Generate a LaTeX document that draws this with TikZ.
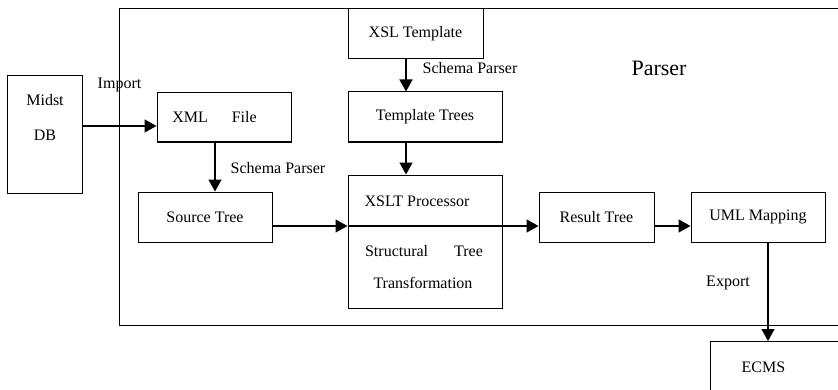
\documentclass[tikz,border=0pt]{standalone}
\usepackage{fontspec}
\setmainfont{Liberation Serif}
\usetikzlibrary{arrows.meta}
\begin{document}
\begin{tikzpicture}[x=1pt,y=1pt,
  box/.style={draw, line width=1pt, inner sep=0pt, font=\fontsize{16}{19}\selectfont},
  txt/.style={inner sep=0pt, font=\fontsize{16}{19}\selectfont},
  arr/.style={line width=1.5pt, -{Triangle[length=12pt,width=13pt]}},
  lin/.style={line width=1.5pt}]
\useasboundingbox (0,0) rectangle (838,389);
\clip (0,0) rectangle (838,389);
\fill[white] (0,0) rectangle (838,389);
% outer parser frame
\draw[line width=1pt] (850,380) -- (119,380) -- (119,64) -- (850,64);
\node[txt, font=\fontsize{22}{26}\selectfont] (parser) at (659,321) {Parser};
% boxes
\node[box, minimum width=75pt, minimum height=117pt] (mid) at (44.5,254.5) {};
\node[txt] (midt1) at (45,289) {Midst};
\node[txt] (midt2) at (45,254) {DB};
\node[box, minimum width=134pt, minimum height=49pt] (xml) at (224,271.5) {};
\node[txt] (xmlt) at (214.5,272) {XML\hspace{24pt}File};
\node[box, minimum width=134pt, minimum height=50pt] (src) at (205,172) {Source Tree};
\node[box, minimum width=135pt, minimum height=50pt] (xsl) at (415.5,355) {XSL Template};
\node[box, minimum width=154pt, minimum height=50pt] (tpl) at (425,272) {Template Trees};
\node[box, minimum width=154pt, minimum height=133pt] (xslt) at (425,147.5) {};
\node[txt] (xs1) at (417,188) {XSLT Processor};
\node[txt] (xs2) at (424,138) {Structural\hspace{26pt}Tree};
\node[txt] (xs3) at (423,106) {Transformation};
\node[box, minimum width=115pt, minimum height=50pt] (res) at (596.5,172) {Result Tree};
\node[box, minimum width=134pt, minimum height=50pt] (uml) at (758,172) {UML Mapping};
\node[box, minimum width=150pt, minimum height=70pt, anchor=north west] (ecms) at (710,48) {};
\node[txt] (ecmst) at (763.5,22) {ECMS};
% labels
\node[txt] (imp) at (119.5,304) {Import};
\node[txt] (sp1) at (278,221) {Schema Parser};
\node[txt] (sp2) at (470,321) {Schema Parser};
\node[txt] (exp) at (728,106) {Export};
% connectors
\draw[arr] (mid.east |- 0,263) -- (xml.west |- 0,263);
\draw[arr] (xml.south -| 215,0) -- (src.north -| 215,0);
\draw[arr] (src.east |- 0,163) -- (xslt.west |- 0,163);
\draw[lin] (xslt.west |- 0,163) -- (xslt.east |- 0,163);
\draw[arr] (xslt.east |- 0,163) -- (res.west |- 0,163);
\draw[arr] (res.east |- 0,163) -- (uml.west |- 0,163);
\draw[arr] (xsl.south -| 406,0) -- (tpl.north -| 406,0);
\draw[arr] (tpl.south -| 406,0) -- (xslt.north -| 406,0);
\draw[arr] (uml.south -| 768,0) -- (ecms.north -| 768,0);
\end{tikzpicture}
\end{document}
